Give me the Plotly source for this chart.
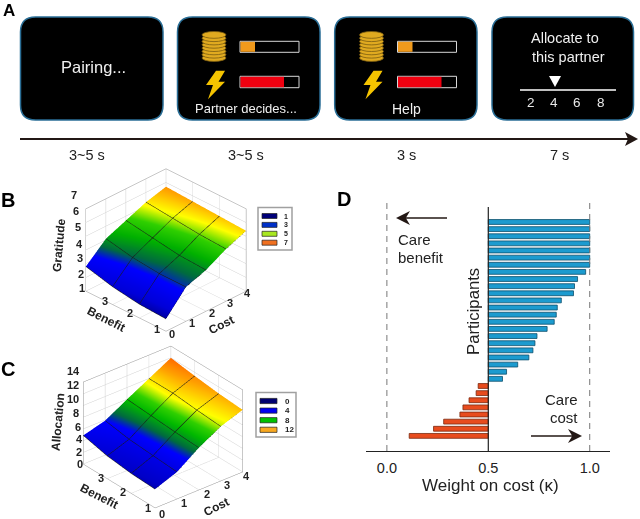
import plotly.graph_objects as go

W, H = 640, 519

# panel A
step_labels = ["3~5 s", "3~5 s", "3 s", "7 s"]
scale_labels = ["2", "4", "6", "8"]

# panels B and C
cost = [0, 1, 2, 3, 4]
benefit = [1, 2, 3, 4]
benefit_ticks = [1, 2, 3]
grat_ticks = [1, 2, 3, 4, 5, 6, 7]
alloc_ticks = [0, 2, 4, 6, 8, 10, 12, 14]
gratitude = [
    [1.9, 3.5, 4.0, 4.8, 5.4],
    [2.0, 3.5, 4.1, 4.9, 5.5],
    [2.3, 3.7, 4.4, 5.1, 5.6],
    [2.8, 4.1, 4.7, 5.3, 5.7],
]
allocation = [
    [3.2, 4.6, 7.2, 9.3, 10.6],
    [3.4, 4.9, 7.4, 9.6, 10.9],
    [3.9, 5.2, 7.7, 10.0, 11.4],
    [4.9, 5.9, 8.0, 10.0, 12.0],
]
grat_legend = ["1", "3", "5", "7"]
grat_legend_colors = ["#000078", "#0030c8", "#a8e820", "#f07020"]
alloc_legend = ["0", "4", "8", "12"]
alloc_legend_colors = ["#000070", "#0000f0", "#00c000", "#f8a820"]

# panel D
kappa_cost = [1.0, 1.0, 1.0, 1.0, 1.0, 1.0, 1.0, 0.98, 0.94, 0.925, 0.92, 0.86,
              0.84, 0.835, 0.825, 0.79, 0.74, 0.73, 0.72, 0.70, 0.645, 0.59, 0.57]
kappa_benefit = [0.45, 0.44, 0.405, 0.375, 0.36, 0.28, 0.23, 0.11]


def px(x):
    return x / W


def py(y):
    return 1 - y / H


def text(x, y, s, size=14, color="#222222", bold=False, angle=0, xanchor="center"):
    fig.add_annotation(x=px(x), y=py(y), xref="paper", yref="paper", text="<b>%s</b>" % s if bold else s,
                       showarrow=False, xanchor=xanchor, yanchor="middle", textangle=angle,
                       font=dict(size=size, color=color, family="Liberation Sans"))


def poly(points, fill, line=None, width=1):
    d = "M" + " L".join("%.4f,%.4f" % (px(a), py(b)) for a, b in points) + " Z"
    fig.add_shape(type="path", path=d, xref="paper", yref="paper", fillcolor=fill,
                  line=dict(color=line or fill, width=width if line else 0))


def rect(x0, y0, x1, y1, fill, line=None, width=1):
    fig.add_shape(type="rect", xref="paper", yref="paper", x0=px(x0), x1=px(x1), y0=py(y0), y1=py(y1),
                  fillcolor=fill, line=dict(color=line or fill, width=width if line else 0))


def seg(x0, y0, x1, y1, color="#222222", width=1, dash="solid"):
    fig.add_shape(type="line", xref="paper", yref="paper", x0=px(x0), x1=px(x1), y0=py(y0), y1=py(y1),
                  line=dict(color=color, width=width, dash=dash))


def box(x0, y0, x1, y1, r=15):
    d = ("M%f,%f L%f,%f Q%f,%f %f,%f L%f,%f Q%f,%f %f,%f L%f,%f Q%f,%f %f,%f L%f,%f Q%f,%f %f,%f Z" % (
        px(x0 + r), py(y0), px(x1 - r), py(y0), px(x1), py(y0), px(x1), py(y0 + r),
        px(x1), py(y1 - r), px(x1), py(y1), px(x1 - r), py(y1),
        px(x0 + r), py(y1), px(x0), py(y1), px(x0), py(y1 - r),
        px(x0), py(y0 + r), px(x0), py(y0), px(x0 + r), py(y0)))
    fig.add_shape(type="path", path=d, xref="paper", yref="paper", fillcolor="#000000",
                  line=dict(color="#2a6e96", width=1.5))


def coins(cx):
    for i in range(8):
        cy = 58 - i * 3.3
        fig.add_shape(type="circle", xref="paper", yref="paper", x0=px(cx - 12), x1=px(cx + 12),
                      y0=py(cy - 3.4), y1=py(cy + 3.4), fillcolor="#e0aa20", line=dict(color="#7a5c10", width=0.8))


def bolt(dx):
    pts = [(216, 70.7), (225, 70.7), (218.5, 81.7), (225, 81.7), (208, 99.3), (213, 85), (206, 85)]
    poly([(a + dx, b) for a, b in pts], "#f5c400")


def gauges(dx):
    rect(240 + dx, 41.3, 299 + dx, 52.3, "#000000", "#d8d8d8", 1)
    rect(240.5 + dx, 41.8, 255 + dx, 51.8, "#f09a1c")
    rect(240 + dx, 76.3, 299 + dx, 87.7, "#000000", "#d8d8d8", 1)
    rect(240.5 + dx, 76.8, 284 + dx, 87.2, "#f00010")


def arrow(x0, x1, y, head=14, half=7):
    sign = 1 if x1 > x0 else -1
    seg(x0, y, x1 - sign * head * 0.6, y, "#231815", 1.6)
    poly([(x1, y), (x1 - sign * head, y - half), (x1 - sign * head * 0.7, y), (x1 - sign * head, y + half)], "#231815")


def scene_axis(rng, ticks):
    return dict(range=rng, tickvals=ticks, showticklabels=False, title=dict(text=""),
                showbackground=False, showgrid=True, gridcolor="#d0d0d0", gridwidth=1,
                showline=True, linecolor="#909090", linewidth=1, mirror=True, zeroline=False, ticks="",
                showspikes=False)


fig = go.Figure()

# panel D bars
participants = list(range(1, len(kappa_cost) + len(kappa_benefit) + 1))
fig.add_trace(go.Bar(y=participants[:len(kappa_cost)], x=[k - 0.5 for k in kappa_cost], base=0.5, orientation="h",
                     marker=dict(color="#1c9bcf", line=dict(color="#0c4f6c", width=0.8)), width=0.68,
                     showlegend=False))
fig.add_trace(go.Bar(y=participants[len(kappa_cost):], x=[k - 0.5 for k in kappa_benefit], base=0.5, orientation="h",
                     marker=dict(color="#e84c1e", line=dict(color="#7a2a10", width=0.8)), width=0.68,
                     showlegend=False))

# panels B and C surfaces
grat_scale = [[0, "#00004a"], [0.05, "#00005a"], [0.22, "#0000d8"], [0.38, "#0000ff"], [0.46, "#006a40"],
              [0.55, "#00b000"], [0.63, "#30d000"], [0.70, "#ffff00"], [0.79, "#ff9000"], [1, "#ff7000"]]
alloc_scale = [[0, "#00004a"], [0.15, "#00005a"], [0.25, "#0000c8"], [0.42, "#0000ff"], [0.48, "#006a40"],
               [0.56, "#00b800"], [0.62, "#30d000"], [0.69, "#ffff00"], [0.79, "#ffa000"], [0.87, "#ff6000"], [1, "#ff6000"]]
mesh = dict(show=True, color="#1a1a1a", width=1, start=0, end=4, size=1)
for z, scale, zmin, zmax, scene in [(gratitude, grat_scale, 1, 7, "scene"), (allocation, alloc_scale, 0, 14, "scene2")]:
    fig.add_trace(go.Surface(x=cost, y=benefit, z=z, colorscale=scale, cmin=zmin, cmax=zmax, showscale=False,
                             scene=scene, lighting=dict(ambient=1, diffuse=0, specular=0, fresnel=0),
                             contours=dict(x=mesh, y=mesh)))

camera_b = dict(eye=dict(x=-1.329, y=-1.329, z=1.085), center=dict(x=0, y=0, z=0), up=dict(x=0, y=0, z=1),
                projection=dict(type="orthographic"))
camera_c = dict(eye=dict(x=-1.19, y=-1.45, z=1.085), center=dict(x=0, y=0, z=0), up=dict(x=0, y=0, z=1),
                projection=dict(type="orthographic"))
fig.update_layout(
    width=W, height=H, margin=dict(l=0, r=0, t=0, b=0), paper_bgcolor="white", plot_bgcolor="white",
    barmode="overlay", showlegend=False,
    xaxis=dict(domain=[px(366), px(610)], range=[-0.103, 1.1], tickvals=[0, 0.5, 1], ticktext=["0.0", "0.5", "1.0"],
               showline=True, linecolor="#222222", linewidth=1.3, showgrid=False, zeroline=False,
               ticks="outside", ticklen=3, tickcolor="rgba(0,0,0,0)",
               tickfont=dict(size=14.5, color="#222222", family="Liberation Sans")),
    yaxis=dict(domain=[py(451.3), py(207)], range=[33.16, -1.1], visible=False),
    scene=dict(domain=dict(x=[px(56), px(276)], y=[py(348), py(152)]), aspectmode="manual",
               aspectratio=dict(x=1.157, y=1.157, z=0.97), camera=camera_b,
               xaxis=scene_axis([0, 4], cost), yaxis=scene_axis([1, 4], benefit_ticks),
               zaxis=scene_axis([1, 7], grat_ticks)),
    scene2=dict(domain=dict(x=[px(53), px(273)], y=[py(519), py(335)]), aspectmode="manual",
                aspectratio=dict(x=1.232, y=1.232, z=1.03), camera=camera_c,
                xaxis=scene_axis([0, 4], cost), yaxis=scene_axis([1, 4], benefit_ticks),
                zaxis=scene_axis([0, 14], alloc_ticks)),
)

# panel A
for x0, x1 in [(20.5, 163), (177.5, 320), (334.7, 477), (492, 633.5)]:
    box(x0, 17, x1, 120)
coins(214)
coins(371.5)
bolt(0)
bolt(157.5)
gauges(0)
gauges(157.5)
text(93, 67, "Pairing...", 16.5, "#f0f0f0")
text(246, 108, "Partner decides...", 13, "#f0f0f0")
text(406, 109, "Help", 14, "#f0f0f0")
text(565, 38, "Allocate to", 14.5, "#f0f0f0")
text(568, 57, "this partner", 14.5, "#f0f0f0")
poly([(549, 76), (561, 76), (555, 87)], "#ffffff")
seg(520, 90, 616, 90, "#ffffff", 1.5)
for x, s in zip([530.6, 554, 577, 601], scale_labels):
    text(x, 102, s, 13.5, "#e8e8e8")
seg(20, 139, 630, 139, "#231815", 2.2)
poly([(638, 139), (625, 132), (628, 139), (625, 146)], "#231815")
for x, s in zip([87, 246, 406, 559], step_labels):
    text(x, 155, s, 14.5)

# panel letters
text(9, 11, "A", 17, "#000000", True)
text(8, 200, "B", 20, "#000000", True)
text(8, 369, "C", 20, "#000000", True)
text(344, 199, "D", 20, "#000000", True)

# panel B and C titles
text(59, 245, "Gratitude", 12, "#222222", True, -85)
text(106, 319, "Benefit", 12, "#222222", True, 27)
text(221, 325, "Cost", 12, "#222222", True, -27)
text(58, 422, "Allocation", 12, "#222222", True, -85)
text(99, 496, "Benefit", 12, "#222222", True, 27)
text(216, 507, "Cost", 12, "#222222", True, -27)

# tick labels of the 3d axes, gl text can't be placed this closely
for v, (x, y) in zip(grat_ticks, [(82, 288), (81, 274), (80, 258), (79, 244), (78, 227), (76, 211), (74, 195)]):
    text(x, y, v, 11, "#222222", True)
for v, (x, y) in zip(benefit_ticks, [(157, 329), (130, 313), (105, 301)]):
    text(x, y, v, 11, "#222222", True)
for v, (x, y) in zip(cost, [(172, 334), (192, 323), (212, 313), (230, 303), (247, 293)]):
    text(x, y, v, 11, "#222222", True)
for v, (x, y) in zip(alloc_ticks, [(80, 464), (79, 452), (79, 439), (78, 427), (76, 413), (73, 399), (73, 385), (73, 371)]):
    text(x, y, v, 11, "#222222", True)
for v, (x, y) in zip(benefit_ticks, [(148, 508), (123, 492), (101, 478)]):
    text(x, y, v, 11, "#222222", True)
for v, (x, y) in zip(cost, [(162, 514), (184, 503), (207, 494), (227, 485), (246, 476)]):
    text(x, y, v, 11, "#222222", True)

# surface legends
rect(258, 207.5, 292, 250, "#ffffff", "#a0a0a0", 1.5)
for i, (s, c) in enumerate(zip(grat_legend, grat_legend_colors)):
    y = 216 + i * 8.9
    rect(262, y - 2.5, 277, y + 2.5, c, "#222222", 0.7)
    text(282, y, s, 7, "#222222", True, xanchor="left")
rect(256, 392.5, 296, 437, "#ffffff", "#a0a0a0", 1.5)
for i, (s, c) in enumerate(zip(alloc_legend, alloc_legend_colors)):
    y = 401 + i * 9.6
    rect(260, y - 2.6, 277, y + 2.6, c, "#222222", 0.7)
    text(283, y, s, 8, "#222222", True, xanchor="left")

# panel D decorations
for v in [0, 1]:
    fig.add_shape(type="line", xref="x", yref="paper", x0=v, x1=v, y0=py(451), y1=py(203),
                  line=dict(color="#777777", width=1, dash="6px,5px"))
fig.add_shape(type="line", xref="x", yref="paper", x0=0.5, x1=0.5, y0=py(451), y1=py(207),
              line=dict(color="#222222", width=1.2))
arrow(447, 396, 218)
arrow(531, 582, 436)
text(396, 239, "Care", 15, xanchor="left")
text(396, 257, "benefit", 15, xanchor="left")
text(580, 399, "Care", 15, xanchor="right")
text(580, 417, "cost", 15, xanchor="right")
text(473, 312, "Participants", 16.7, angle=-90)
text(490, 485, "Weight on cost (\u03ba)", 17)

fig.write_html("out.html", config=dict(displayModeBar=False), post_script="document.body.style.margin='0';")
